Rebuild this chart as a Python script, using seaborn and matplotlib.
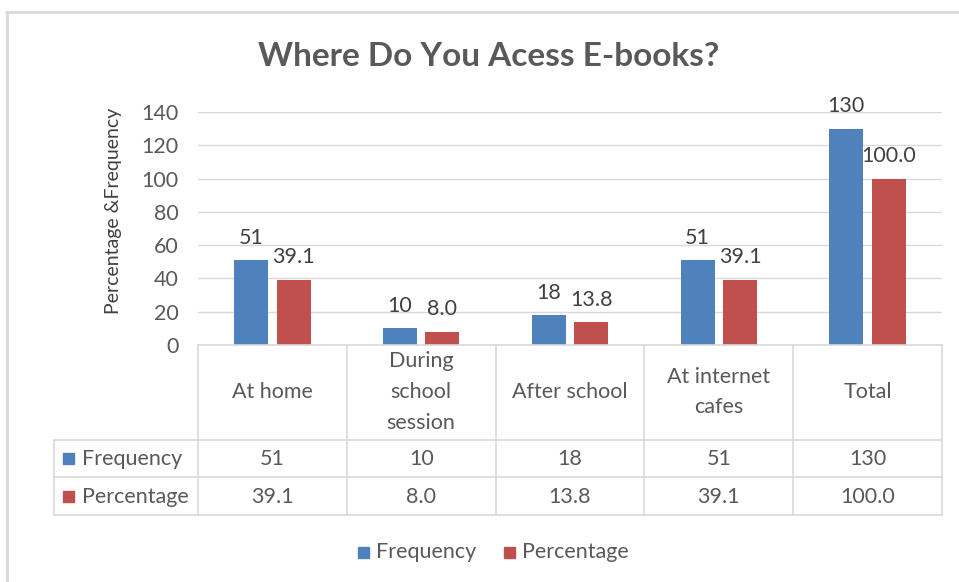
import matplotlib
matplotlib.use("Agg")
import matplotlib.pyplot as plt
import seaborn as sns
import pandas as pd
from matplotlib.patches import Rectangle
from matplotlib.lines import Line2D

categories = ["At home", "During school session", "After school", "At internet cafes", "Total"]
cat_labels = ["At home", "During\nschool\nsession", "After school", "At internet\ncafes", "Total"]
frequency = [51, 10, 18, 51, 130]
percentage = [39.1, 8.0, 13.8, 39.1, 100.0]
series = ["Frequency", "Percentage"]
yticks = [0, 20, 40, 60, 80, 100, 120, 140]

colors = {"Frequency": "#4F81BD", "Percentage": "#C0504D"}
TXT = "#595959"
GRID = "#D9D9D9"
FS = 15.5

sns.set_theme(style="white")
plt.rcParams["font.family"] = ["Lato", "DejaVu Sans"]

W, H = 959, 582
fig = plt.figure(figsize=(W / 100, H / 100), dpi=100)

def fx(px):
    return px / W

def fy(py):
    return 1 - py / H

ax = fig.add_axes([fx(198), fy(345), fx(942) - fx(198), fy(112) - fy(345)])

df = pd.DataFrame({
    "cat": categories * 2,
    "series": ["Frequency"] * len(categories) + ["Percentage"] * len(categories),
    "value": frequency + percentage,
})
sns.barplot(data=df, x="cat", y="value", hue="series", order=categories,
            hue_order=series, palette=colors, width=0.57, gap=0.2,
            saturation=1, ax=ax, legend=False, edgecolor="none")

ax.set_ylim(0, 140)
ax.set_xlim(-0.5, len(categories) - 0.5)
ax.set_yticks(yticks)
ax.set_yticklabels([str(t) for t in yticks], fontsize=FS, color=TXT)
ax.set_xticks([])
ax.set_xlabel("")
ax.set_ylabel("")
ax.tick_params(axis="y", length=0, pad=14)
for s in ax.spines.values():
    s.set_visible(False)
ax.grid(axis="y", color=GRID, linewidth=1)
ax.set_axisbelow(True)

# data labels
for cont, vals, fmt in zip(ax.containers, [frequency, percentage], ["{:.0f}", "{:.1f}"]):
    ax.bar_label(cont, labels=[fmt.format(v) for v in vals], padding=9,
                 fontsize=FS, color="#404040")

# y label
fig.text(fx(113), fy(211), "Percentage &Frequency", rotation=90, ha="center",
         va="center", fontsize=14, color="#404040")

# title
fig.text(fx(489), fy(57), "Where Do You Acess E-books?", ha="center", va="center",
         fontsize=24, fontweight="bold", color=TXT)

# data table
col_edges = [198 + i * (942 - 198) / len(categories) for i in range(len(categories) + 1)]
left_edge = 54

def hline(x0, x1, y):
    fig.add_artist(Line2D([fx(x0), fx(x1)], [fy(y), fy(y)], color=GRID, lw=1.2))

def vline(x, y0, y1):
    fig.add_artist(Line2D([fx(x), fx(x)], [fy(y0), fy(y1)], color=GRID, lw=1.2))

hline(198, 942, 345)
hline(left_edge, 942, 440)
hline(left_edge, 942, 477)
hline(left_edge, 942, 515)
for x in col_edges:
    vline(x, 345, 515)
vline(left_edge, 440, 515)

for i, lab in enumerate(cat_labels):
    cx = (col_edges[i] + col_edges[i + 1]) / 2
    fig.text(fx(cx), fy(392), lab, ha="center", va="center", fontsize=FS,
             color=TXT, linespacing=1.68)
    fig.text(fx(cx), fy(459), f"{frequency[i]:.0f}", ha="center", va="center",
             fontsize=FS, color=TXT)
    fig.text(fx(cx), fy(497), f"{percentage[i]:.1f}", ha="center", va="center",
             fontsize=FS, color=TXT)

for name, yc in zip(series, [459, 497]):
    fig.add_artist(Rectangle((fx(63), fy(yc + 5)), fx(11), fy(0) - fy(11),
                             color=colors[name]))
    fig.text(fx(82), fy(yc), name, ha="left", va="center", fontsize=FS, color=TXT)

# legend
for name, sx in zip(series, [358, 504]):
    fig.add_artist(Rectangle((fx(sx), fy(558)), fx(11), fy(0) - fy(11),
                             color=colors[name]))
    fig.text(fx(sx + 18), fy(552), name, ha="left", va="center", fontsize=FS, color=TXT)

# outer chart border (top and left visible)
fig.add_artist(Line2D([fx(6), fx(959)], [fy(12), fy(12)], color=GRID, lw=2))
fig.add_artist(Line2D([fx(7), fx(7)], [fy(12), fy(582)], color=GRID, lw=2))

fig.savefig("out.png", dpi=100)
